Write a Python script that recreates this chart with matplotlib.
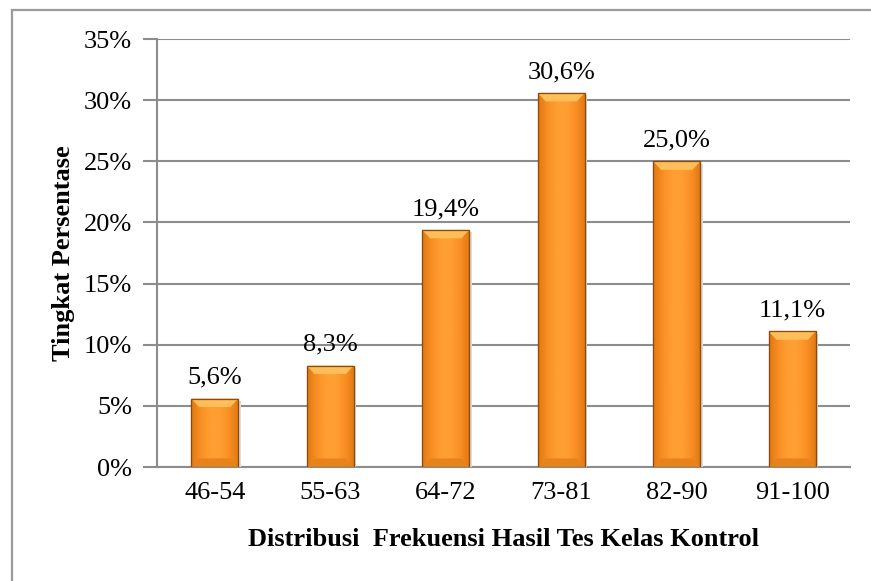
import numpy as np
import matplotlib
matplotlib.use("Agg")
import matplotlib.pyplot as plt
from matplotlib.colors import LinearSegmentedColormap
from matplotlib.patches import Rectangle, Polygon

# data
kelas = ["46-54", "55-63", "64-72", "73-81", "82-90", "91-100"]
persen = [5.6, 8.3, 19.4, 30.6, 25.0, 11.1]
label_persen = ["5,6%", "8,3%", "19,4%", "30,6%", "25,0%", "11,1%"]

plt.rcParams['font.family'] = ['Liberation Serif', 'DejaVu Serif']

fig = plt.figure(figsize=(8.71, 5.81), dpi=100)
ax = fig.add_axes([157/871, 1 - 467/581, (850 - 157)/871, (467 - 39)/581])

# bingkai luar
fig.patches.append(Rectangle((12/871, -0.2), 1.2, 1.2 - 10/581,
                             transform=fig.transFigure, fill=False,
                             edgecolor='#9a9a9a', lw=1.6, zorder=0))

x = np.arange(len(kelas))
bars = ax.bar(x, persen, width=0.41, color='#F7941D', edgecolor='#9a5010',
              lw=0.8, zorder=3)

# gradasi oranye
cmap = LinearSegmentedColormap.from_list(
    'oranye', ['#E07812', '#F98F24', '#FF9E32', '#FF9E32', '#F98F24', '#E07812'])
grad = np.linspace(0, 1, 64).reshape(1, -1)
for b in bars:
    x0, y0 = b.get_x(), b.get_y()
    w, h = b.get_width(), b.get_height()
    im = ax.imshow(grad, cmap=cmap, aspect='auto', extent=[x0, x0 + w, y0, y0 + h],
                   zorder=3.1)
    im.set_clip_path(b)
    # bevel atas
    bev = 0.7
    top = Polygon([[x0, y0 + h], [x0 + w, y0 + h], [x0 + w - 0.07, y0 + h - bev],
                   [x0 + 0.07, y0 + h - bev]], closed=True, facecolor='#FFBE58',
                  edgecolor='none', zorder=3.2)
    ax.add_patch(top)
    bot = Polygon([[x0, y0], [x0 + w, y0], [x0 + w - 0.07, y0 + bev],
                   [x0 + 0.07, y0 + bev]], closed=True, facecolor='#E8821A',
                  edgecolor='none', zorder=3.2)
    ax.add_patch(bot)
    ax.add_patch(Rectangle((x0, y0), w, h, fill=False, edgecolor='#8a4a10',
                           lw=0.9, zorder=3.3))
    # bayangan
    ax.add_patch(Rectangle((x0 + w, y0), 0.02, h - 0.2, facecolor='#dcdcdc',
                           edgecolor='none', zorder=2.9))

for xi, v, t in zip(x, persen, label_persen):
    ax.text(xi, v + 0.8, t, ha='center', va='bottom', fontsize=19)

ax.set_xlim(-0.5, len(kelas) - 0.5)
ax.set_ylim(0, 35)
ax.set_yticks(np.arange(0, 36, 5))
ax.set_yticklabels([f"{v}%" for v in range(0, 36, 5)])
ax.set_xticks(x)
ax.set_xticklabels(kelas)
ax.tick_params(axis='y', length=10, width=1.5, color='#8c8c8c', labelsize=19, pad=8)
ax.tick_params(axis='x', length=0, labelsize=19, pad=11)
ax.grid(axis='y', color='#8c8c8c', lw=1.5, zorder=0)
ax.set_axisbelow(True)
for s in ['top', 'right']:
    ax.spines[s].set_visible(False)
for s in ['left', 'bottom']:
    ax.spines[s].set_color('#8c8c8c')
    ax.spines[s].set_linewidth(1.5)

ax.set_xlabel("Distribusi  Frekuensi Hasil Tes Kelas Kontrol", fontsize=19,
              fontweight='bold', labelpad=17)
ax.set_ylabel("Tingkat Persentase", fontsize=19, fontweight='bold', labelpad=6)

fig.savefig("out.png", dpi=100, facecolor='white')
